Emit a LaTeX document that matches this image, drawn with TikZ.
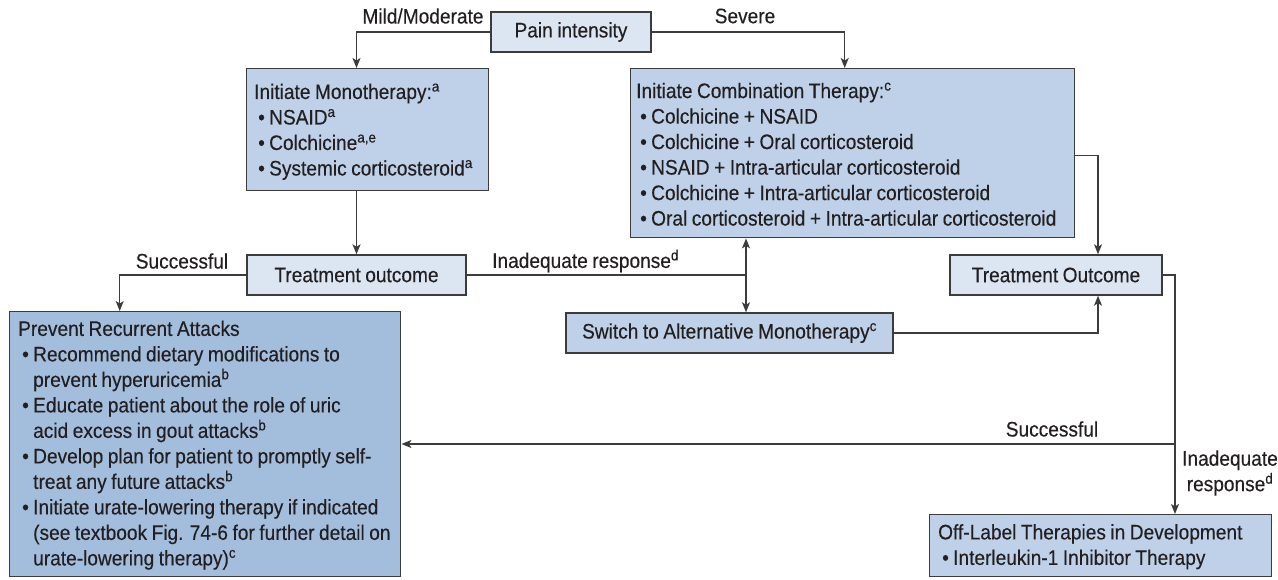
\documentclass[tikz,border=0pt]{standalone}
\usepackage{fontspec}
\setmainfont{Liberation Sans}[FakeStretch=0.91, WordSpace=0.85, FakeBold=0.3]
\usetikzlibrary{arrows.meta}
\definecolor{ink}{HTML}{231F20}
\definecolor{edge}{HTML}{3C3C3C}
\definecolor{pale}{HTML}{DCE6F2}
\definecolor{mid}{HTML}{BFD1E8}
\definecolor{deep}{HTML}{A3BEDD}
\newcommand\bul{\hspace*{4pt}\makebox[11pt][l]{\textbullet}}
\newcommand\cnt{\hspace*{15pt}}
\newcommand\sps[1]{\textsuperscript{#1}}
\begin{document}
\begin{tikzpicture}[x=1pt,y=-1pt,
  font=\fontsize{21}{25.5}\selectfont, text=ink,
  box/.style={draw=edge, line width=1.4pt, inner sep=0pt},
  cbox/.style={box, anchor=center},
  rbox/.style={box, anchor=north west},
  txt/.style={inner sep=0pt, anchor=west, align=left},
  lbl/.style={inner sep=0pt},
  link/.style={draw=edge, line width=1.3pt},
  arr/.style={link, -{Stealth[length=10pt,width=8pt,inset=2.5pt]}},
  arrs/.style={link, {Stealth[length=10pt,width=8pt,inset=2.5pt]}-{Stealth[length=10pt,width=8pt,inset=2.5pt]}}]
\useasboundingbox (0,0) rectangle (1278,580);

% single-line boxes
\node[cbox, fill=pale, minimum width=160pt, minimum height=40pt] (pain) at (571,32) {Pain intensity};
\node[cbox, fill=pale, minimum width=219pt, minimum height=40pt] (out1) at (356.5,275) {Treatment outcome};
\node[cbox, fill=pale, minimum width=212pt, minimum height=40pt] (out2) at (1056,275) {Treatment Outcome};
\node[cbox, fill=mid, minimum width=327pt, minimum height=40pt] (switch) at (729.5,333) {Switch to Alternative Monotherapy\sps{c}};

% list boxes: frame first, then the left-aligned text block
\node[rbox, fill=mid, minimum width=242pt, minimum height=122pt] (mono) at (246,68) {};
\node[txt] (monotxt) at ([xshift=8pt,yshift=-2pt]mono.west)
  {Initiate Monotherapy:\sps{a}\\
   \bul NSAID\sps{a}\\
   \bul Colchicine\sps{a,e}\\
   \bul Systemic corticosteroid\sps{a}};

\node[rbox, fill=mid, minimum width=444pt, minimum height=169pt] (combo) at (630,68) {};
\node[txt] (combotxt) at ([xshift=6pt,yshift=-1pt]combo.west)
  {Initiate Combination Therapy:\sps{c}\\
   \bul Colchicine + NSAID\\
   \bul Colchicine + Oral corticosteroid\\
   \bul NSAID + Intra-articular corticosteroid\\
   \bul Colchicine + Intra-articular corticosteroid\\
   \bul Oral corticosteroid + Intra-articular corticosteroid};

\node[rbox, fill=deep, minimum width=391pt, minimum height=265pt] (prevent) at (9,311) {};
\node[txt] (preventtxt) at ([xshift=9pt,yshift=-1pt]prevent.west)
  {Prevent Recurrent Attacks\\
   \bul Recommend dietary modifications to\\
   \cnt prevent hyperuricemia\sps{b}\\
   \bul Educate patient about the role of uric\\
   \cnt acid excess in gout attacks\sps{b}\\
   \bul Develop plan for patient to promptly self-\\
   \cnt treat any future attacks\sps{b}\\
   \bul Initiate urate-lowering therapy if indicated\\
   \cnt (see textbook Fig. 74-6 for further detail on\\
   \cnt urate-lowering therapy)\sps{c}};

\node[rbox, fill=mid, minimum width=342pt, minimum height=62pt] (offlabel) at (929,514) {};
\node[txt] (offlabeltxt) at ([xshift=9pt,yshift=-1pt]offlabel.west)
  {Off-Label Therapies in Development\\
   \bul Interleukin-1 Inhibitor Therapy};

% junction points
\coordinate (dj) at (746,275);
\coordinate (vr) at (1175,444);
\coordinate (o2x) at (1098,0);

% connectors
\draw[arr] (pain.west) -| (mono.north -| out1.north);
\draw[arr] (pain.east) -| ([xshift=-8pt]combo.north);
\draw[arr] (mono.south -| out1.north) -- (out1.north);
\draw[arr] (out1.west) -| ([xshift=-85.5pt]prevent.north);
\draw[link] (out1.east) -- (dj);
\draw[arrs] (combo.south -| dj) -- (switch.north -| dj);
\draw[arr] ([yshift=-2.5pt]combo.east) -| (out2.north -| o2x);
\draw[arr] (switch.east) -| (out2.south -| o2x);
\draw[arr] (out2.east) -| (offlabel.north -| vr);
\draw[arr] (vr) -- (vr -| prevent.east);

% branch labels
\node[lbl] (lmild) at (423,16) {Mild/Moderate};
\node[lbl] (lsev) at (745,16) {Severe};
\node[lbl] (lsucc1) at (182,261) {Successful};
\node[lbl, anchor=west] (linad1) at (492,261) {Inadequate response\sps{d}};
\node[lbl] (lsucc2) at (1052,429) {Successful};
\node[lbl, align=center] (linad2) at (1230,473) {Inadequate\\response\sps{d}};
\end{tikzpicture}
\end{document}
